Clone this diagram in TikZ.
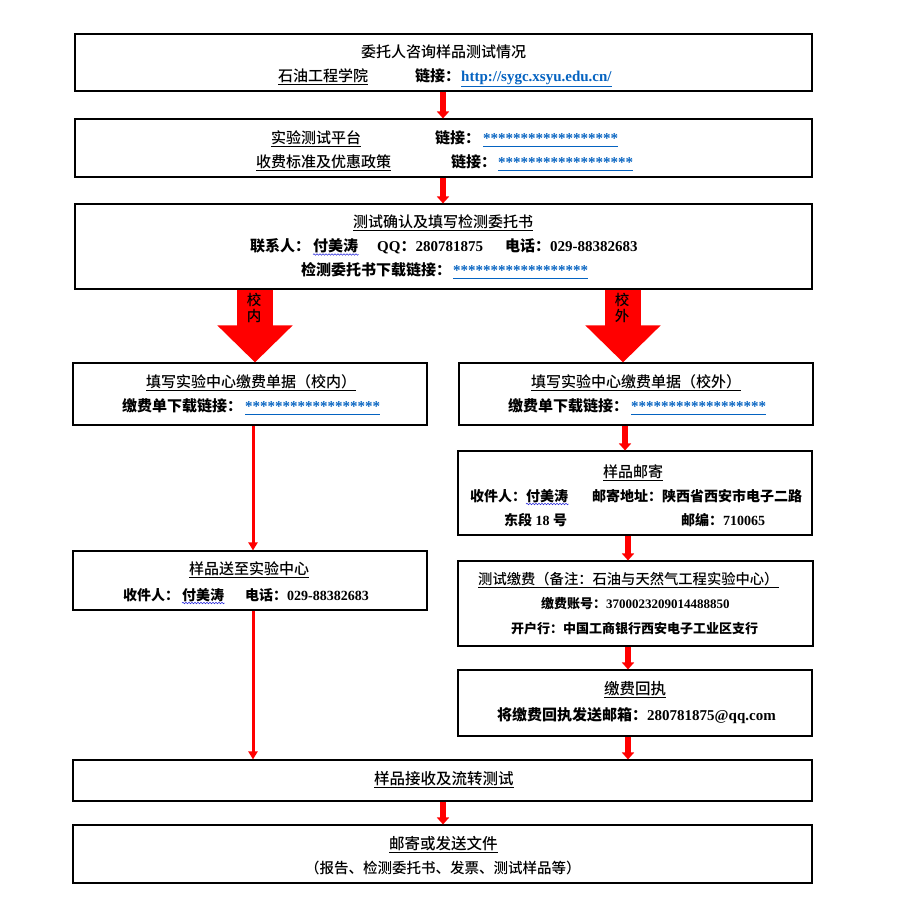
\documentclass[tikz,border=0pt]{standalone}
\usepackage{fontspec}
\setmainfont{Liberation Serif}
\newfontfamily\cjk{Noto Sans CJK SC}
\newfontfamily\cjkmed{Noto Sans CJK SC Medium}
\usetikzlibrary{arrows.meta,fit,decorations.pathmorphing}
\definecolor{linkblue}{RGB}{5,99,193}
\definecolor{wavyblue}{RGB}{40,40,220}
\newcommand\zh[1]{{\cjk #1}}
\newcommand\uln[1]{\underline{#1\vphantom{\zh{测}}}}
\newcommand\lnk[1]{\textcolor{linkblue}{\uln{#1}}}
\newcommand\starsline{\lnk{******************}}
\begin{document}
\begin{tikzpicture}[x=1pt,y=-1pt,
  box/.style={draw=black, line width=1.1pt, inner sep=0pt},
  ttl/.style={anchor=base west, inner sep=0pt, font=\fontsize{#1}{#1}\selectfont\cjkmed},
  ttl/.default=15,
  dtl/.style={anchor=base west, inner sep=0pt, font=\fontsize{#1}{#1}\selectfont\bfseries},
  dtl/.default=15,
  sarr/.style={draw=red, line width=5.5pt, -{Triangle[width=12pt,length=7pt]}},
  larr/.style={draw=red, line width=3pt, -{Triangle[width=9pt,length=8pt]}},
  barr/.style={draw=red, line width=36pt, -{Triangle[width=73pt,length=37pt]}},
  wavy/.style={draw=wavyblue, line width=0.6pt, decorate, decoration={snake, amplitude=0.7pt, segment length=3pt}},
  bigtxt/.style={align=center, inner sep=0pt, font=\fontsize{14.5}{15.5}\selectfont\cjkmed}
]
\fill[white] (0,0) rectangle (908,909);
\useasboundingbox (0,0) rectangle (908,909);

% box 1
\node[box, fit={(75,34) (812,91)}] (b1) {};
\node[ttl] (t1a) at (361,57.5) {委托人咨询样品测试情况};
\node[ttl] (t1b) at (278,81.5) {\uln{石油工程学院}};
\node[dtl] (t1c) at (415,81.5) {\zh{链接：}};
\node[dtl] (t1d) at (461,81.5) {\lnk{http://sygc.xsyu.edu.cn/}};

% box 2
\node[box, fit={(75,119) (812,177)}] (b2) {};
\node[ttl] (t2a) at (271,143.5) {\uln{实验测试平台}};
\node[dtl] (t2b) at (435,143.5) {\zh{链接：}};
\node[dtl] (t2c) at (483,143.5) {\starsline};
\node[ttl] (t2d) at (256,167.5) {\uln{收费标准及优惠政策}};
\node[dtl] (t2e) at (451,167.5) {\zh{链接：}};
\node[dtl] (t2f) at (498,167.5) {\starsline};

% box 3
\node[box, fit={(75,204) (812,289)}] (b3) {};
\node[ttl] (t3a) at (353,227.5) {\uln{测试确认及填写检测委托书}};
\node[dtl] (t3b) at (250,251.5) {\zh{联系人：}};
\node[dtl] (fm1) at (313,251.5) {\zh{付美涛}};
\node[dtl] (t3c) at (377,251.5) {QQ\zh{：}280781875};
\node[dtl] (t3d) at (505,251.5) {\zh{电话：}029-88382683};
\node[dtl] (t3e) at (301,275.5) {\zh{检测委托书下载链接：}};
\node[dtl] (t3f) at (453,275.5) {\starsline};

% box 4 left
\node[box, fit={(73,363) (427,425)}] (b4l) {};
\node[ttl] (t4a) at (146,387.5) {\uln{填写实验中心缴费单据（校内）}};
\node[dtl] (t4b) at (122,411.5) {\zh{缴费单下载链接：}};
\node[dtl] (t4c) at (245,411.5) {\starsline};

% box 4 right
\node[box, fit={(459,363) (813,425)}] (b4r) {};
\node[ttl] (t4d) at (531,387.5) {\uln{填写实验中心缴费单据（校外）}};
\node[dtl] (t4e) at (508,411.5) {\zh{缴费单下载链接：}};
\node[dtl] (t4f) at (631,411.5) {\starsline};

% box 5 right
\node[box, fit={(458,451) (812,535)}] (b5r) {};
\node[ttl] (t5a) at (603,477.5) {\uln{样品邮寄}};
\node[dtl=14] (t5b) at (470,501) {\zh{收件人：}};
\node[dtl=14] (fm2) at (526,501) {\zh{付美涛}};
\node[dtl=14] (t5c) at (592,501) {\zh{邮寄地址：陕西省西安市电子二路}};
\node[dtl=14] (t5d) at (504,525) {\zh{东段}~18~\zh{号}};
\node[dtl=14] (t5e) at (681,525) {\zh{邮编：}710065};

% box 6 right
\node[box, fit={(458,561) (813,646)}] (b6r) {};
\node[ttl=14.3] (t6a) at (478,584.5) {\uln{测试缴费（备注：石油与天然气工程实验中心）}};
\node[dtl=13] (t6b) at (541,608.8) {\zh{缴费账号：}3700023209014488850};
\node[dtl=13] (t6c) at (511,633.8) {\zh{开户行：中国工商银行西安电子工业区支行}};

% box 7 right
\node[box, fit={(458,670) (812,736)}] (b7r) {};
\node[ttl=15.5] (t7a) at (604,694.5) {\uln{缴费回执}};
\node[dtl] (t7b) at (497,720.5) {\zh{将缴费回执发送邮箱：}280781875@qq.com};

% box 5 left
\node[box, fit={(73,551) (427,610)}] (b5l) {};
\node[ttl] (t8a) at (189,574.5) {\uln{样品送至实验中心}};
\node[dtl=14] (t8b) at (123,600) {\zh{收件人：}};
\node[dtl=14] (fm3) at (182,600) {\zh{付美涛}};
\node[dtl=14] (t8c) at (245,600) {\zh{电话：}029-88382683};

% bottom boxes
\node[box, fit={(73,760) (812,801)}] (b8) {};
\node[ttl=15.5] (t9a) at (374,784.5) {\uln{样品接收及流转测试}};
\node[box, fit={(73,825) (812,883)}] (b9) {};
\node[ttl=15.5] (t10a) at (389,849.5) {\uln{邮寄或发送文件}};
\node[ttl=14.5] (t10b) at (305,873.5) {（报告、检测委托书、发票、测试样品等）};

% wavy underlines
\draw[wavy] ([yshift=-3pt]fm1.base west) -- ([yshift=-3pt]fm1.base east);
\draw[wavy] ([yshift=-3pt]fm2.base west) -- ([yshift=-3pt]fm2.base east);
\draw[wavy] ([yshift=-3pt]fm3.base west) -- ([yshift=-3pt]fm3.base east);

% connector columns
\coordinate (xc) at (443,0);
\coordinate (xl) at (253,0);
\coordinate (xr) at (625,0);
\coordinate (xr2) at (628,0);
\coordinate (xbl) at (255,0);
\coordinate (xbr) at (623,0);

\draw[sarr] (b1.south -| xc) -- (b2.north -| xc);
\draw[sarr] (b2.south -| xc) -- (b3.north -| xc);
\draw[barr] (b3.south -| xbl) -- (b4l.north -| xbl);
\draw[barr] (b3.south -| xbr) -- (b4r.north -| xbr);
\draw[larr] (b4l.south -| xl) -- (b5l.north -| xl);
\draw[larr] (b5l.south -| xl) -- (b8.north -| xl);
\draw[sarr] (b4r.south -| xr) -- (b5r.north -| xr);
\draw[sarr] (b5r.south -| xr2) -- (b6r.north -| xr2);
\draw[sarr] (b6r.south -| xr2) -- (b7r.north -| xr2);
\draw[sarr] (b7r.south -| xr2) -- (b8.north -| xr2);
\draw[sarr] (b8.south -| xc) -- (b9.north -| xc);

\node[bigtxt] (lin) at (254,308) {校\\内};
\node[bigtxt] (lout) at (622,308) {校\\外};
\end{tikzpicture}
\end{document}
